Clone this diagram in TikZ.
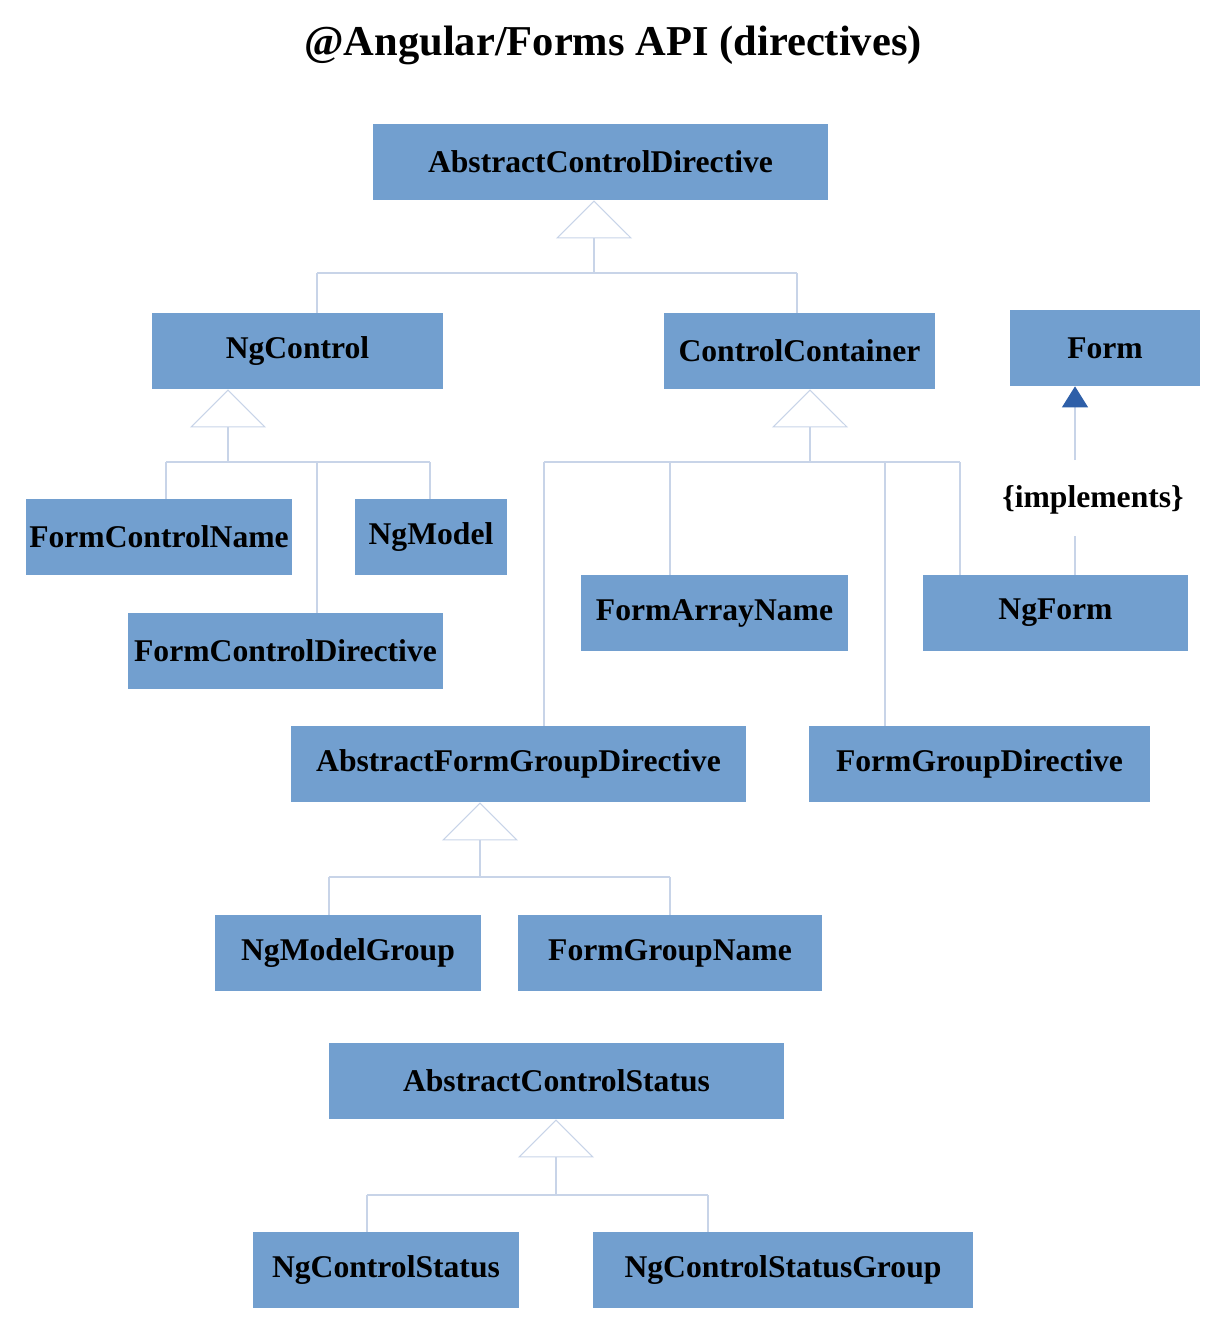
\documentclass[tikz,border=0pt]{standalone}
\usepackage{fontspec}
\setmainfont{Liberation Serif}
\usetikzlibrary{arrows.meta}
\definecolor{boxblue}{RGB}{114,159,207}
\definecolor{linkblue}{RGB}{200,212,232}
\definecolor{tipblue}{RGB}{46,95,168}
\tikzset{
  cls/.style={fill=boxblue, minimum height=1.52cm, inner sep=0pt, font=\fontsize{18}{20}\selectfont\bfseries},
  link/.style={draw=linkblue, line width=0.6pt},
  inherit/.style={link, -{Triangle[open, length=0.76cm, width=1.52cm, fill=white]}},
  realize/.style={link, -{Triangle[length=0.42cm, width=0.52cm, color=tipblue]}}
}
\begin{document}
\begin{tikzpicture}[x=0.02cm, y=-0.02cm]
      \useasboundingbox (0,0) rectangle (1222,1340);
      \node (title) at (613,45) {\fontsize{24.2}{28}\selectfont\bfseries @Angular/Forms API (directives)};
      \draw
        (600.5,162) node[cls, minimum width=9.1cm] (acd){AbstractControlDirective}
        (297.5,351) node[cls, minimum width=5.82cm] (ngcontrol){NgControl}
        (799.5,351) node[cls, minimum width=5.42cm] (container){ControlContainer}
        (1105,348) node[cls, minimum width=3.8cm] (form){Form}
        (159,537) node[cls, minimum width=5.32cm] (fcname){FormControlName}
        (431,537) node[cls, minimum width=3.04cm] (ngmodel){NgModel}
        (285.5,651) node[cls, minimum width=6.3cm] (fcdir){FormControlDirective}
        (714.5,613) node[cls, minimum width=5.34cm] (faname){FormArrayName}
        (1055.5,613) node[cls, minimum width=5.3cm] (ngform){NgForm}
        (518.5,764) node[cls, minimum width=9.1cm] (afgdir){AbstractFormGroupDirective}
        (979.5,764) node[cls, minimum width=6.82cm] (fgdir){FormGroupDirective}
        (348,953) node[cls, minimum width=5.32cm] (ngmgroup){NgModelGroup}
        (670,953) node[cls, minimum width=6.08cm] (fgname){FormGroupName}
        (556.5,1081) node[cls, minimum width=9.1cm] (acstatus){AbstractControlStatus}
        (386,1270) node[cls, minimum width=5.32cm] (ngcstatus){NgControlStatus}
        (783,1270) node[cls, minimum width=7.6cm] (ngcsgroup){NgControlStatusGroup};
      \coordinate (j1) at (594,273);
      \coordinate (j2) at (228,462);
      \coordinate (j3) at (810,462);
      \coordinate (j4) at (480,877);
      \coordinate (j5) at (556,1195);
      \coordinate (b1) at (317,273);
      \coordinate (b2) at (797,273);
      \coordinate (b3) at (166,462);
      \coordinate (b4) at (317,462);
      \coordinate (b5) at (430,462);
      \coordinate (b6) at (544,462);
      \coordinate (b7) at (670,462);
      \coordinate (b8) at (885,462);
      \coordinate (b9) at (960,462);
      \coordinate (b10) at (329,877);
      \coordinate (b11) at (670,877);
      \coordinate (b12) at (367,1195);
      \coordinate (b13) at (708,1195);
      \begin{scope}[link]
        \draw (b1) -- (b2);
        \draw (b1) -- (b1 |- ngcontrol.north);
        \draw (b2) -- (b2 |- container.north);
        \draw (b3) -- (b5);
        \draw (b3) -- (b3 |- fcname.north);
        \draw (b4) -- (b4 |- fcdir.north);
        \draw (b5) -- (b5 |- ngmodel.north);
        \draw (b6) -- (b9);
        \draw (b6) -- (b6 |- afgdir.north);
        \draw (b7) -- (b7 |- faname.north);
        \draw (b8) -- (b8 |- fgdir.north);
        \draw (b9) -- (b9 |- ngform.north);
        \draw (b10) -- (b11);
        \draw (b10) -- (b10 |- ngmgroup.north);
        \draw (b11) -- (b11 |- fgname.north);
        \draw (b12) -- (b13);
        \draw (b12) -- (b12 |- ngcstatus.north);
        \draw (b13) -- (b13 |- ngcsgroup.north);
      \end{scope}
      \begin{scope}[inherit]
        \draw (j1) -- (j1 |- acd.south);
        \draw (j2) -- (j2 |- ngcontrol.south);
        \draw (j3) -- (j3 |- container.south);
        \draw (j4) -- (j4 |- afgdir.south);
        \draw (j5) -- (j5 |- acstatus.south);
      \end{scope}
      \node[font=\fontsize{18}{20}\selectfont\bfseries] (impl) at (1093,500) {\{implements\}};
      \coordinate (ia) at (1075,536);
      \coordinate (ib) at (1075,460);
      \draw[link] (ngform.north -| ia) -- (ia);
      \draw[realize] (ib) -- (form.south -| ib);
    \end{tikzpicture}
\end{document}
